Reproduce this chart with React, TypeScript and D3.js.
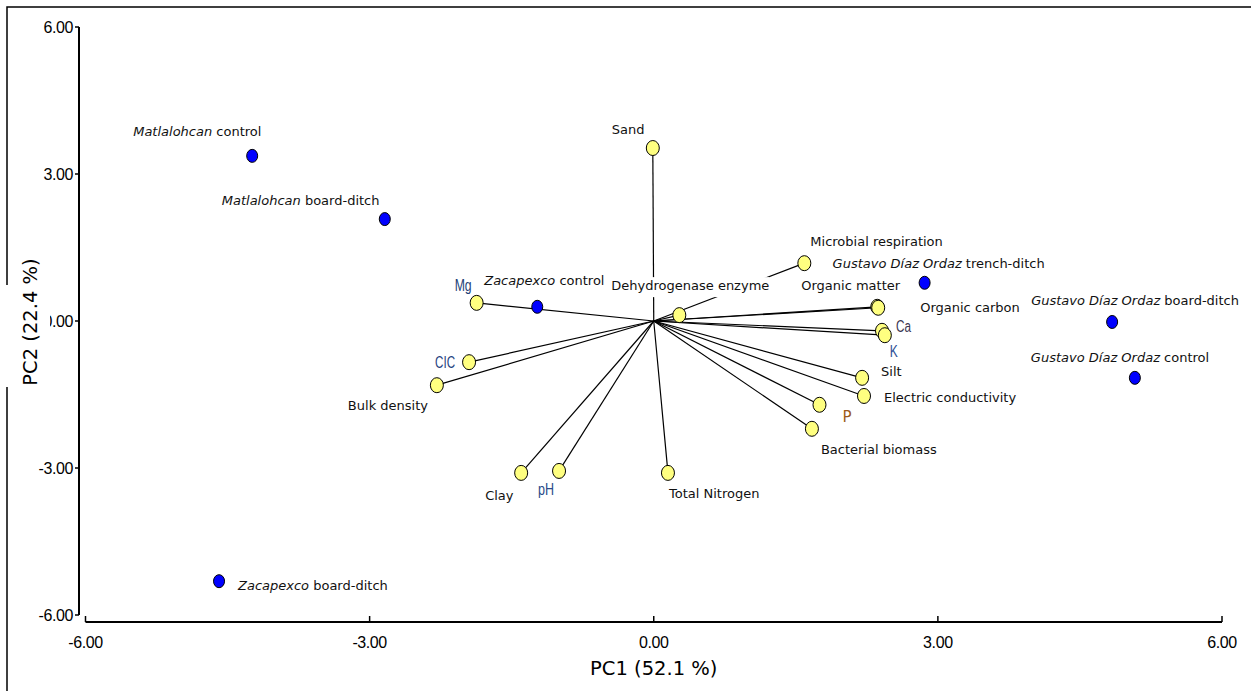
import React from "react";
import * as d3 from "d3";

// Sample scores (PC1, PC2)
const sampleItalic = ["Matlalohcan", "Matlalohcan", "Zacapexco", "Zacapexco", "Gustavo Díaz Ordaz", "Gustavo Díaz Ordaz", "Gustavo Díaz Ordaz"];
const sampleRest = [" control", " board-ditch", " control", " board-ditch", " trench-ditch", " board-ditch", " control"];
const samplePC1 = [-4.24, -2.84, -1.23, -4.59, 2.86, 4.84, 5.08];
const samplePC2 = [3.37, 2.08, 0.29, -5.31, 0.78, -0.02, -1.16];

// Variable loadings (PC1, PC2)
const varNames = ["Sand", "Microbial respiration", "Dehydrogenase enzyme", "Organic matter", "Organic carbon", "Ca", "K", "Silt", "Electric conductivity", "P", "Bacterial biomass", "Total Nitrogen", "pH", "Clay", "Bulk density", "CIC", "Mg"];
const varPC1 = [-0.01, 1.59, 0.27, 2.36, 2.37, 2.41, 2.44, 2.20, 2.22, 1.75, 1.67, 0.15, -1.00, -1.40, -2.29, -1.95, -1.87];
const varPC2 = [3.53, 1.18, 0.12, 0.29, 0.27, -0.20, -0.29, -1.16, -1.53, -1.71, -2.20, -3.10, -3.06, -3.10, -1.31, -0.84, 0.37];

const tickValues = [-6, -3, 0, 3, 6];
const xTitle = "PC1 (52.1 %)";
const yTitle = "PC2 (22.4 %)";

// label layout (pixel offsets from the mark)
const sampleLabelOffset: [number, number][] = [[-119, -20], [-163, -14], [-53, -22], [19, 9], [-92, -15], [-81, -17], [-104, -16]];
const varLabelOffset: [number, number][] = [[-41, -14], [6, -17], [-68, -25], [-76, -17], [42, 4], [14, 1], [5, 22], [19, -2], [20, 6], [23, 17], [9, 25], [1, 25], [-21, 24], [-36, 27], [-89, 25], [-34, 6], [-22, -12]];
const narrowColor: Record<string, string> = { Ca: "#3a3550", K: "#2f4f96", pH: "#2a4a8a", CIC: "#1f3f7f", Mg: "#243f77", P: "#9c5a1a" };
const narrowWidth: Record<string, number> = { Ca: 15, K: 8, pH: 16, CIC: 20, Mg: 17 };

export default function App() {
  const W = 1251, H = 691;
  const x = d3.scaleLinear().domain([-6, 6]).range([85.5, 1222]);
  const y = d3.scaleLinear().domain([-6, 6]).range([615, 27]);
  const sans = "'DejaVu Sans', Verdana, sans-serif";
  const arial = "'Liberation Sans', Arial, sans-serif";
  const ox = x(0), oy = y(0);

  return (
    <svg width={W} height={H} style={{ position: "absolute", left: 0, top: 0, background: "#fff" }}>
      <rect x={0} y={0} width={W} height={H} fill="#fff" />
      {/* frame */}
      <path d={`M7,${H} V7 H${W}`} fill="none" stroke="#000" strokeWidth={1.5} />
      {/* white patch cutting the left frame */}
      <rect x={0} y={285} width={50} height={102} fill="#fff" />

      {/* y axis */}
      <line x1={79} x2={79} y1={y(6)} y2={y(-6)} stroke="#000" strokeWidth={2} />
      {tickValues.map((t) => (
        <g key={"yt" + t}>
          <line x1={75} x2={79} y1={y(t)} y2={y(t)} stroke="#000" strokeWidth={1.5} />
          <text x={73} y={y(t)} dy="0.35em" textAnchor="end" fontFamily={arial} fontSize={16} fill="#000" letterSpacing={-0.4}>
            {t.toFixed(2)}
          </text>
        </g>
      ))}
      {/* x axis */}
      <line x1={x(-6)} x2={x(6)} y1={622} y2={622} stroke="#000" strokeWidth={2} />
      {tickValues.map((t) => (
        <g key={"xt" + t}>
          <line x1={x(t)} x2={x(t)} y1={616} y2={622} stroke="#000" strokeWidth={1.5} />
          <text x={x(t)} y={642} dy="0.35em" textAnchor="middle" fontFamily={arial} fontSize={16} fill="#000" letterSpacing={-0.4}>
            {t.toFixed(2)}
          </text>
        </g>
      ))}
      {/* white patch over 0.00 label left part */}
      <rect x={0} y={300} width={50} height={40} fill="#fff" />

      <text x={ox} y={668} dy="0.35em" textAnchor="middle" fontFamily={sans} fontSize={19.5} fill="#000">{xTitle}</text>
      <text transform={`translate(30,322) rotate(-90)`} dy="0.35em" textAnchor="middle" fontFamily={sans} fontSize={19.5} fill="#000">{yTitle}</text>

      {/* vectors */}
      {varNames.map((n, i) => (
        <line key={"v" + n} x1={ox} y1={oy} x2={x(varPC1[i])} y2={y(varPC2[i])} stroke="#000" strokeWidth={1.2} />
      ))}

      {/* variable labels */}
      {varNames.map((n, i) => {
        const px = x(varPC1[i]) + varLabelOffset[i][0];
        const py = y(varPC2[i]) + varLabelOffset[i][1];
        const isNarrow = n in narrowWidth;
        const isBg = n === "Dehydrogenase enzyme";
        return (
          <g key={"vl" + n}>
            {isBg && <rect x={px - 2} y={py - 13} width={160} height={20} fill="#fff" />}
            {isNarrow ? (
              <text x={px} y={py} fontFamily={arial} fontSize={16} fill={narrowColor[n]} textLength={narrowWidth[n]} lengthAdjust="spacingAndGlyphs">
                {n}
              </text>
            ) : (
              <text x={px} y={py} fontFamily={sans} fontSize={n === "P" ? 15 : 13} fill={narrowColor[n] || "#111"}>
                {n}
              </text>
            )}
          </g>
        );
      })}

      {/* sample labels */}
      {sampleItalic.map((it, i) => (
        <text key={"sl" + i} x={x(samplePC1[i]) + sampleLabelOffset[i][0]} y={y(samplePC2[i]) + sampleLabelOffset[i][1]} fontFamily={sans} fontSize={13} fill="#111">
          <tspan fontStyle="italic">{it}</tspan>
          <tspan>{sampleRest[i]}</tspan>
        </text>
      ))}

      {/* variable points */}
      {varNames.map((n, i) => (
        <ellipse key={"vp" + n} cx={x(varPC1[i])} cy={y(varPC2[i])} rx={6.5} ry={7.5} fill="#ffff80" stroke="#000" strokeWidth={1} />
      ))}
      {/* sample points */}
      {samplePC1.map((v, i) => (
        <ellipse key={"sp" + i} cx={x(v)} cy={y(samplePC2[i])} rx={5.5} ry={6.5} fill="#0000ff" stroke="#000" strokeWidth={1} />
      ))}
    </svg>
  );
}
